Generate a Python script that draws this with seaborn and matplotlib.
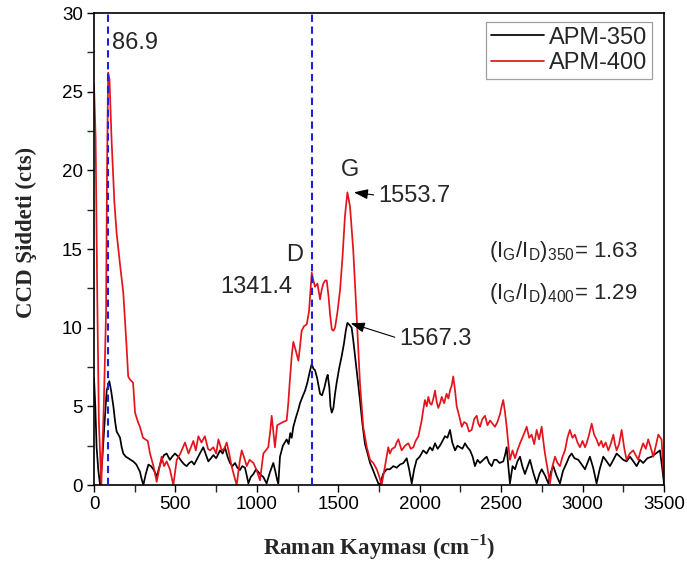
import numpy as np
import pandas as pd
import matplotlib
matplotlib.use("Agg")
import matplotlib.pyplot as plt
from matplotlib.ticker import MultipleLocator
import seaborn as sns

# ---------------- data ----------------
x_400 = [0, 10, 20, 30, 45, 60, 74, 80, 87, 95, 108, 125, 139, 160, 180, 200, 210, 221, 240, 252,
         270, 282, 301, 330, 344, 365, 385, 400, 415, 430, 446, 466, 487, 508, 530, 559, 580, 610,
         625, 641, 660, 681, 700, 712, 733, 750, 764, 784, 800, 815, 830, 845, 860, 876, 895, 907,
         920, 938, 955, 979, 1000, 1019, 1040, 1055, 1070, 1083, 1091, 1100, 1111, 1125, 1142,
         1160, 1183, 1193, 1203, 1214, 1224, 1240, 1255, 1265, 1275, 1290, 1306, 1320, 1337, 1347,
         1357, 1372, 1388, 1398, 1408, 1420, 1429, 1440, 1450, 1460, 1470, 1480, 1495, 1511, 1526,
         1541, 1556, 1572, 1592, 1613, 1633, 1653, 1675, 1695, 1715, 1736, 1750, 1766, 1787, 1807,
         1817, 1830, 1848, 1858, 1869, 1889, 1910, 1930, 1945, 1961, 1975, 1992, 2002, 2012, 2022,
         2032, 2043, 2053, 2063, 2073, 2084, 2094, 2104, 2114, 2125, 2135, 2150, 2165, 2176, 2186,
         2196, 2206, 2217, 2227, 2242, 2258, 2273, 2288, 2303, 2319, 2335, 2350, 2360, 2370, 2385,
         2401, 2416, 2432, 2447, 2462, 2477, 2493, 2503, 2513, 2524, 2534, 2544, 2554, 2570, 2585,
         2600, 2616, 2630, 2646, 2657, 2672, 2687, 2703, 2718, 2733, 2749, 2759, 2769, 2785, 2800,
         2815, 2831, 2846, 2861, 2877, 2892, 2907, 2922, 2938, 2953, 2969, 2984, 3000, 3015, 3025,
         3040, 3056, 3071, 3086, 3100, 3115, 3127, 3142, 3158, 3173, 3189, 3199, 3209, 3224, 3240,
         3255, 3270, 3290, 3311, 3326, 3342, 3357, 3372, 3388, 3403, 3418, 3434, 3450, 3465, 3485,
         3500]
y_400 = [25.5, 22, 12, 4, 0, 5, 11, 20, 26.2, 25.8, 21.9, 18, 16.0, 14, 12.2, 8.8, 6.9, 6.7, 6.5, 4.6,
         4.0, 3.7, 3.0, 2.8, 2.0, 1.2, 0.2, 1.0, 1.8, 1.2, 1.5, 1.0, 0.0, 1.6, 2.0, 2.7, 2.0, 2.8,
         2.2, 3.1, 2.7, 3.1, 2.3, 2.2, 2.4, 2.0, 2.9, 2.2, 2.3, 2.7, 2.0, 1.2, 0.6, 0.0, 1.5, 2.2,
         1.8, 1.2, 1.6, 1.4, 0.9, 0.3, 2.0, 2.2, 2.4, 3.5, 4.4, 3.5, 2.4, 3.8, 3.9,
         4.0, 4.1, 5.2, 6.7, 8.2, 9.1, 8.5, 7.9, 8.8, 9.8, 10.1, 10.2, 11.0, 13.5, 13.0,
         12.6, 12.8, 11.8, 12.4, 12.8, 13.0, 13.0, 12.0, 10.8, 9.9, 9.8, 10.0, 11.0, 12.4, 14.5,
         17.1, 18.6, 17.7, 14.9, 10.7, 6.5, 3.7, 2.4, 1.6, 1.4, 1.0, 0.6, 0.0, 1.2, 2.4,
         2.0, 2.3, 2.4, 2.7, 2.9, 2.2, 2.5, 2.65, 2.3, 2.4, 2.8, 3.1, 3.6, 4.1, 4.8,
         5.4, 5.0, 5.6, 5.2, 5.1, 5.5, 6.0, 5.3, 4.9, 5.2, 5.6, 5.2, 5.8, 5.5, 6.0,
         6.3, 6.9, 6.0, 5.0, 4.4, 3.7, 4.0, 3.9, 3.4, 3.5, 4.2, 4.4, 3.9, 3.7, 4.2,
         4.4, 3.8, 4.1, 3.9, 3.7, 4.0, 4.5, 5.0, 5.4, 4.6, 3.7, 2.6, 1.6, 2.2, 1.7,
         2.2, 2.65, 3.0, 3.4, 3.7, 3.0, 3.2, 2.6, 3.5, 2.9, 3.7, 2.8, 2.0, 1.0, 0.1,
         1.2, 1.8, 1.4, 1.2, 1.8, 2.2, 3.0, 3.5, 3.0, 3.2, 2.7, 2.4, 2.8, 2.4, 2.65,
         3.2, 3.9, 3.2, 2.9, 2.5, 2.8, 2.4, 2.7, 2.2, 2.6, 3.2, 2.6, 2.2, 2.6, 3.5,
         2.4, 1.6, 2.0, 2.2, 1.9, 1.6, 2.2, 2.65, 2.3, 2.9, 2.4, 1.8, 2.5, 3.2, 2.9,
         0.3]

x_350 = [0, 8, 16, 26, 37, 50, 62, 78, 94, 105, 119, 130, 139, 150, 160, 170, 180, 195, 211, 225,
         241, 260, 282, 292, 303, 318, 334, 350, 364, 375, 385, 400, 415, 430, 446, 456, 466, 480,
         497, 518, 538, 555, 569, 585, 600, 615, 630, 650, 671, 685, 702, 718, 733, 750, 774, 790,
         804, 820, 835, 850, 866, 880, 896, 910, 927, 938, 948, 962, 979, 995, 1019, 1040, 1060,
         1080, 1101, 1115, 1125, 1132, 1142, 1160, 1183, 1195, 1205, 1214, 1224, 1240, 1255, 1265,
         1280, 1296, 1310, 1325, 1337, 1347, 1357, 1370, 1388, 1400, 1415, 1428, 1435, 1445, 1452,
         1460, 1470, 1480, 1490, 1505, 1521, 1535, 1546, 1556, 1567, 1582, 1592, 1603, 1618, 1633,
         1648, 1664, 1680, 1695, 1715, 1730, 1746, 1756, 1775, 1797, 1817, 1838, 1858, 1879, 1900,
         1920, 1935, 1951, 1966, 1981, 2000, 2022, 2042, 2063, 2078, 2094, 2110, 2124, 2140, 2155,
         2170, 2186, 2200, 2217, 2232, 2247, 2262, 2278, 2293, 2309, 2325, 2339, 2355, 2370, 2390,
         2411, 2426, 2442, 2457, 2472, 2490, 2513, 2524, 2534, 2544, 2554, 2570, 2585, 2600, 2616,
         2630, 2646, 2660, 2677, 2697, 2718, 2735, 2749, 2770, 2790, 2805, 2820, 2840, 2861, 2880,
         2902, 2918, 2933, 2950, 2974, 2995, 3015, 3030, 3045, 3065, 3086, 3105, 3127, 3148, 3168,
         3189, 3209, 3230, 3250, 3270, 3291, 3312, 3332, 3352, 3372, 3398, 3424, 3450, 3475, 3490,
         3500]
y_350 = [6.8, 5.0, 2.4, 1.0, 0.0, 1.5, 3.5, 6.0, 6.6, 6.0, 5.0, 4.0, 3.4, 3.2, 3.0, 2.4, 2.0, 1.8, 1.7, 1.6,
         1.5, 1.3, 0.85, 0.4, 0.0, 0.7, 1.3, 1.2, 1.0, 0.8, 0.5, 1.1, 1.6, 1.9, 2.0, 1.8, 1.6, 1.8,
         2.0, 1.8, 1.5, 1.3, 1.2, 1.4, 1.5, 1.3, 1.6, 2.0, 2.4, 2.0, 1.5, 1.7, 1.9, 1.7, 2.2, 2.0,
         2.4, 1.8, 1.4, 1.2, 1.4, 1.1, 0.95, 1.2, 1.1, 0.6, 0.1, 0.5, 0.7, 1.0, 0.7, 0.5, 0.1,
         0.8, 1.4, 0.8, 0.3, 0.1, 1.8, 2.5, 2.9, 2.6, 3.3, 3.0, 3.7, 4.3, 4.8, 5.2,
         5.6, 6.0, 6.5, 7.2, 7.7, 7.4, 7.3, 6.8, 5.8, 5.7, 6.2, 6.8, 7.0, 6.2, 5.0,
         4.6, 4.9, 5.8, 6.5, 7.4, 8.2, 9.0, 9.8, 10.3, 10.2, 10.0, 9.2, 8.2, 6.8, 5.4,
         3.9, 2.6, 2.0, 1.4, 0.9, 0.5, 0.1, 0.0, 0.7, 1.0, 1.0, 1.2, 1.1, 1.3, 1.4,
         1.7, 1.0, 0.1, 1.0, 1.6, 1.8, 2.2, 2.0, 2.4, 2.2, 2.65, 2.3, 2.5, 2.8, 3.1,
         3.0, 3.5, 2.7, 2.2, 2.5, 2.4, 2.3, 2.65, 2.4, 2.2, 1.8, 1.2, 1.6, 1.4, 1.6,
         1.8, 1.4, 1.2, 1.6, 1.6, 1.4, 1.5, 1.9, 2.4, 1.2, 0.1, 1.2, 1.0, 1.5, 1.8,
         1.2, 0.7, 1.1, 1.6, 0.8, 0.1, 0.7, 1.0, 0.6, 0.1, 0.8, 1.2, 0.6, 0.1, 0.9,
         1.4, 1.8, 2.0, 1.7, 1.6, 1.3, 1.0, 1.4, 1.8, 1.1, 0.1, 1.0, 1.8, 1.5, 1.2,
         1.6, 2.0, 1.8, 1.6, 1.5, 1.8, 1.5, 1.2, 1.6, 1.4, 1.7, 1.8, 2.0, 2.2, 1.0,
         0.1]

series_names = ["APM-350", "APM-400"]
peak_lines = [87.0, 1341.4]
x_ticks = [0, 500, 1000, 1500, 2000, 2500, 3000, 3500]
y_ticks = [0, 5, 10, 15, 20, 25, 30]

df = pd.concat([
    pd.DataFrame({"shift": x_350, "intensity": y_350, "sample": series_names[0]}),
    pd.DataFrame({"shift": x_400, "intensity": y_400, "sample": series_names[1]}),
], ignore_index=True)

# ---------------- style ----------------
sns.set_style("ticks")
plt.rcParams["font.family"] = ["Liberation Sans", "DejaVu Sans"]
plt.rcParams["mathtext.fontset"] = "custom"
plt.rcParams["mathtext.rm"] = "Liberation Sans"
plt.rcParams["mathtext.it"] = "Liberation Sans"

fig = plt.figure(figsize=(6.87, 5.69), dpi=100)
ax = fig.add_axes([94 / 687, 1 - 485 / 569, (664 - 94) / 687, (485 - 13) / 569])

palette = {"APM-350": "#000000", "APM-400": "#e3141b"}
sns.lineplot(data=df, x="shift", y="intensity", hue="sample", hue_order=series_names,
             palette=palette, estimator=None, sort=False, linewidth=1.25, ax=ax)

for xv in peak_lines:
    ax.axvline(xv, color="#1f1fe0", linewidth=1.5, linestyle=(0, (3.5, 2.2)), zorder=3)

ax.set_xlim(0, 3500)
ax.set_ylim(0, 30)
ax.set_xticks(x_ticks)
ax.set_yticks(y_ticks)
ax.xaxis.set_minor_locator(MultipleLocator(250))
ax.yaxis.set_minor_locator(MultipleLocator(2.5))
ax.tick_params(axis="both", which="major", direction="out", length=5, width=1,
               labelsize=13.5, colors="black", pad=3)
ax.tick_params(axis="both", which="minor", direction="out", length=5, width=1)
for s in ax.spines.values():
    s.set_visible(True)
    s.set_linewidth(1.2)
    s.set_color("black")

label_font = dict(family=["Liberation Serif", "DejaVu Serif"], weight="bold", size=16.5)
ax.set_xlabel(r"Raman Kayması (cm$^{\mathregular{-1}}$)", fontdict=label_font, labelpad=14)
ax.set_ylabel("CCD Şiddeti (cts)", fontdict=label_font)
ax.yaxis.set_label_coords(-0.1, 0.536)

# legend
handles, labels = ax.get_legend_handles_labels()
leg = ax.legend(handles, labels, loc="upper right", bbox_to_anchor=(0.979, 0.981),
                fontsize=17, frameon=True, fancybox=False, edgecolor="#888888",
                handlelength=2.25, handletextpad=0.2, borderpad=0.2, labelspacing=0.15,
                borderaxespad=0.0)
leg.get_frame().set_linewidth(0.9)

# annotations
fs = 17
ax.text(110, 28.1, "86.9", fontsize=fs, ha="left", va="center")
ax.text(1234, 14.6, "D", fontsize=fs, ha="center", va="center")
ax.text(999, 12.57, "1341.4", fontsize=fs, ha="center", va="center")
ax.text(1572, 20.0, "G", fontsize=fs, ha="center", va="center")
arrow = dict(arrowstyle="-|>,head_length=0.5,head_width=0.18", color="black", lw=0.8,
             shrinkA=1, shrinkB=0, relpos=(0, 0.5))
ax.annotate("1553.7", xy=(1596, 18.6), xytext=(1746, 18.4), fontsize=fs,
            ha="left", va="center", arrowprops=arrow)
ax.annotate("1567.3", xy=(1576, 10.28), xytext=(1875, 9.3), fontsize=fs,
            ha="left", va="center", arrowprops=arrow)
ax.text(2426, 14.84, r"$\mathregular{(I_G/I_D)_{350}}$= 1.63", fontsize=16, ha="left", va="center")
ax.text(2426, 12.17, r"$\mathregular{(I_G/I_D)_{400}}$= 1.29", fontsize=16, ha="left", va="center")

fig.savefig("out.png", dpi=100)
